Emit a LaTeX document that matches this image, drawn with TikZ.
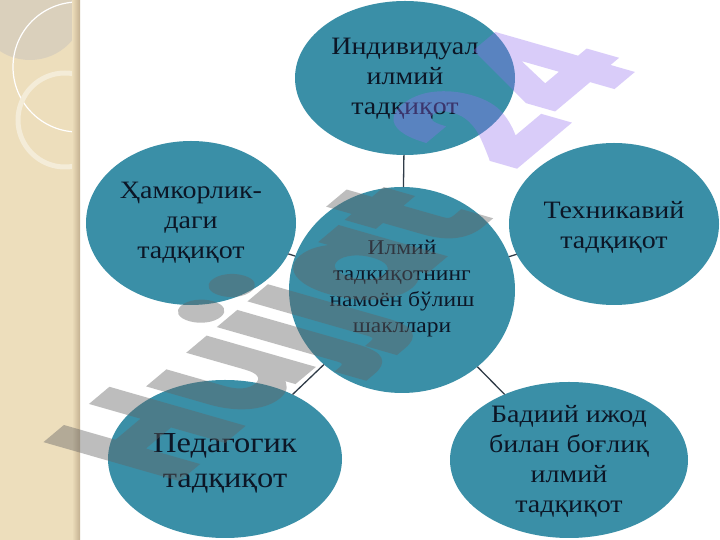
\documentclass[tikz,border=0pt]{standalone}
\usepackage{fontspec}
\setmainfont{Liberation Serif}[FakeStretch=1.12]
\newfontfamily\wmfont{Poppins}[BoldFeatures={FakeBold=2.5}]
\usetikzlibrary{shapes.geometric}
\definecolor{ellfill}{RGB}{58,143,167}
\definecolor{txtc}{RGB}{12,22,38}
\definecolor{connc}{RGB}{48,60,72}
\definecolor{stripc}{RGB}{237,222,188}
\definecolor{blobc}{RGB}{218,208,188}
\definecolor{ringc}{RGB}{244,236,216}
\definecolor{shadowc}{RGB}{196,176,144}
\definecolor{wmgray}{RGB}{100,100,100}
\definecolor{wmpurple}{RGB}{148,111,240}
\tikzset{
  ell/.style={ellipse, fill=ellfill, draw=none, inner sep=0pt, outer sep=0pt},
  txt/.style={align=center, text=txtc, inner sep=0pt},
  big/.style={font=\fontsize{25}{30}\selectfont},
  conn/.style={draw=connc, line width=1.3pt},
  wm/.style={transform shape, anchor=base west, inner sep=0pt, font=\wmfont\bfseries\fontsize{100}{100}\selectfont}
}
\begin{document}
\begin{tikzpicture}[x=1pt,y=1pt]
\useasboundingbox (0,0) rectangle (720,540);
\fill[white] (0,0) rectangle (720,540);
% left decorative strip
\begin{scope}
  \clip (0,0) rectangle (78,540);
  \fill[stripc] (0,0) rectangle (78,540);
  \fill[blobc] (30,535) circle (55);
  \draw[white, line width=1.2pt] (78,473) circle (65);
  \draw[ringc, line width=5pt] (65,420) circle (47);
\end{scope}
\shade[left color=stripc, right color=shadowc] (72,0) rectangle (80,540);

% ellipses
\node[ell, minimum width=220, minimum height=154] (top) at (405,462) {};
\node[ell, minimum width=226, minimum height=206] (cen) at (402,250) {};
\node[ell, minimum width=210, minimum height=164] (lft) at (191,317) {};
\node[ell, minimum width=210, minimum height=162] (rgt) at (614,316) {};
\node[ell, minimum width=234, minimum height=158] (bl) at (225,81) {};
\node[ell, minimum width=238, minimum height=156] (br) at (569,80) {};

% connectors
\draw[conn] (cen) -- (top);
\draw[conn] (cen) -- (lft);
\draw[conn] (cen) -- (rgt);
\draw[conn] (cen) -- (bl);
\draw[conn] (cen) -- (br);

% texts
\node[txt, big] (topt) at (405,461) {Индивидуал\\илмий\\тадқиқот};
\node[txt, font=\fontsize{21}{26}\selectfont] (cent) at (402,251) {Илмий\\тадқиқотнинг\\намоён бўлиш\\шакллари};
\node[txt, big] (lftt) at (191,317) {Ҳамкорлик-\\даги\\тадқиқот};
\node[txt, big] (rgtt) at (614,313) {Техникавий\\тадқиқот};
\node[txt, font=\fontsize{29}{35}\selectfont] (blt) at (225,77) {Педагогик\\тадқиқот};
\node[txt, big] (brt) at (569,79) {Бадиий ижод\\билан боғлиқ\\илмий\\тадқиқот};

% watermark
\begin{scope}[transparency group, opacity=0.42]
\begin{scope}[cm={1.042,0.874,-1.874,0.537,(172,55)}]
  \node[wm, text=wmgray] (wm1) at (0,0) {Hujjat};
\end{scope}
\end{scope}
\begin{scope}[transparency group, opacity=0.35]
\begin{scope}[cm={1.042,0.874,-1.874,0.537,(172,55)}]
  \node[wm, text=wmpurple] (wm2) at (wm1.base east) {\hspace{43pt}\raisebox{13pt}{24}};
\end{scope}
\end{scope}
\end{tikzpicture}
\end{document}
